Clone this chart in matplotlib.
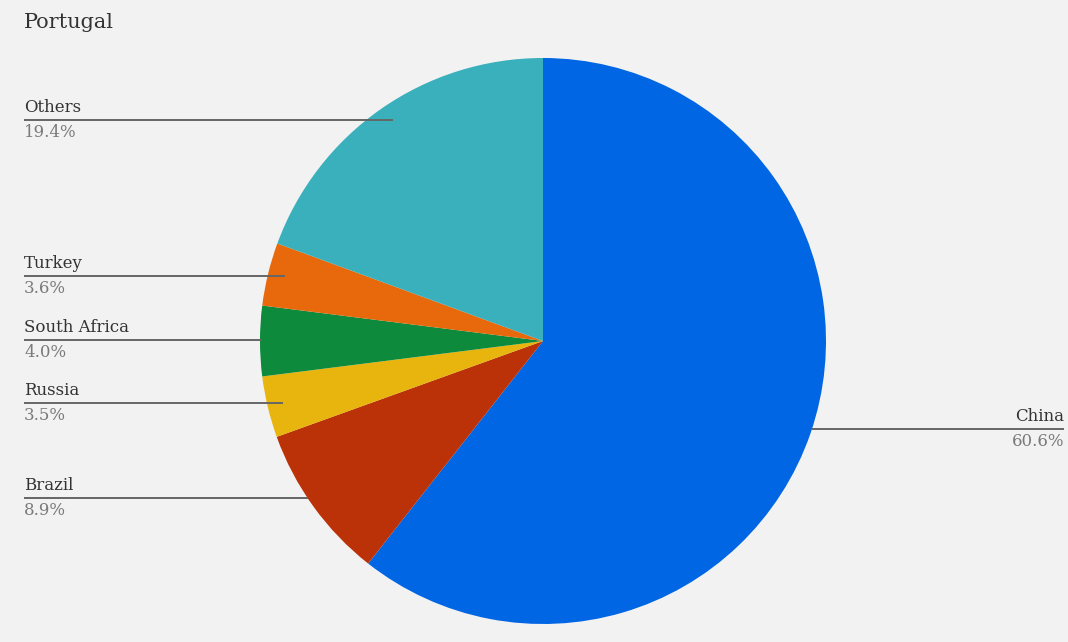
import matplotlib.pyplot as plt

W, H = 1068, 642

labels = ['China', 'Brazil', 'Russia', 'South Africa', 'Turkey', 'Others']
values = [60.6, 8.9, 3.5, 4.0, 3.6, 19.4]
pct_text = ['60.6%', '8.9%', '3.5%', '4.0%', '3.6%', '19.4%']
colors = ['#0166e3', '#bb3108', '#e8b40e', '#0d8a3c', '#e8690c', '#39b0bb']

# label layout (pixel coords, y from top): line y, line start x, line end x, side
line_y = [429, 498, 403, 340, 276, 120]
line_x0 = [812, 24, 24, 24, 24, 24]
line_x1 = [1064, 308, 283, 262, 285, 393]
side = ['right', 'left', 'left', 'left', 'left', 'left']

bg = '#f2f2f2'
plt.rcParams['font.family'] = ['DejaVu Serif']


def Y(y):
    return H - y


fig = plt.figure(figsize=(W / 100, H / 100), dpi=100, facecolor=bg)
ax = fig.add_axes([0, 0, 1, 1])
ax.set_facecolor(bg)

ax.pie(values, colors=colors, startangle=90, counterclock=False,
       center=(543, Y(341)), radius=283,
       wedgeprops=dict(linewidth=0))
ax.set_xlim(0, W)
ax.set_ylim(0, H)
ax.set_aspect('equal')
ax.axis('off')

ax.text(24, Y(22), 'Portugal', fontsize=15, color='#333333',
        va='center', ha='left')

for i, lab in enumerate(labels):
    y = line_y[i]
    ax.plot([line_x0[i], line_x1[i]], [Y(y), Y(y)], color='#666666', lw=1.4,
            zorder=5, solid_capstyle='butt')
    if side[i] == 'left':
        tx, ha = line_x0[i], 'left'
    else:
        tx, ha = line_x1[i], 'right'
    ax.text(tx, Y(y - 4), lab, fontsize=12, color='#333333', ha=ha, va='bottom')
    ax.text(tx, Y(y + 4), pct_text[i], fontsize=12, color='#7a7a7a', ha=ha, va='top')

fig.savefig('out.png', dpi=100, facecolor=bg)
